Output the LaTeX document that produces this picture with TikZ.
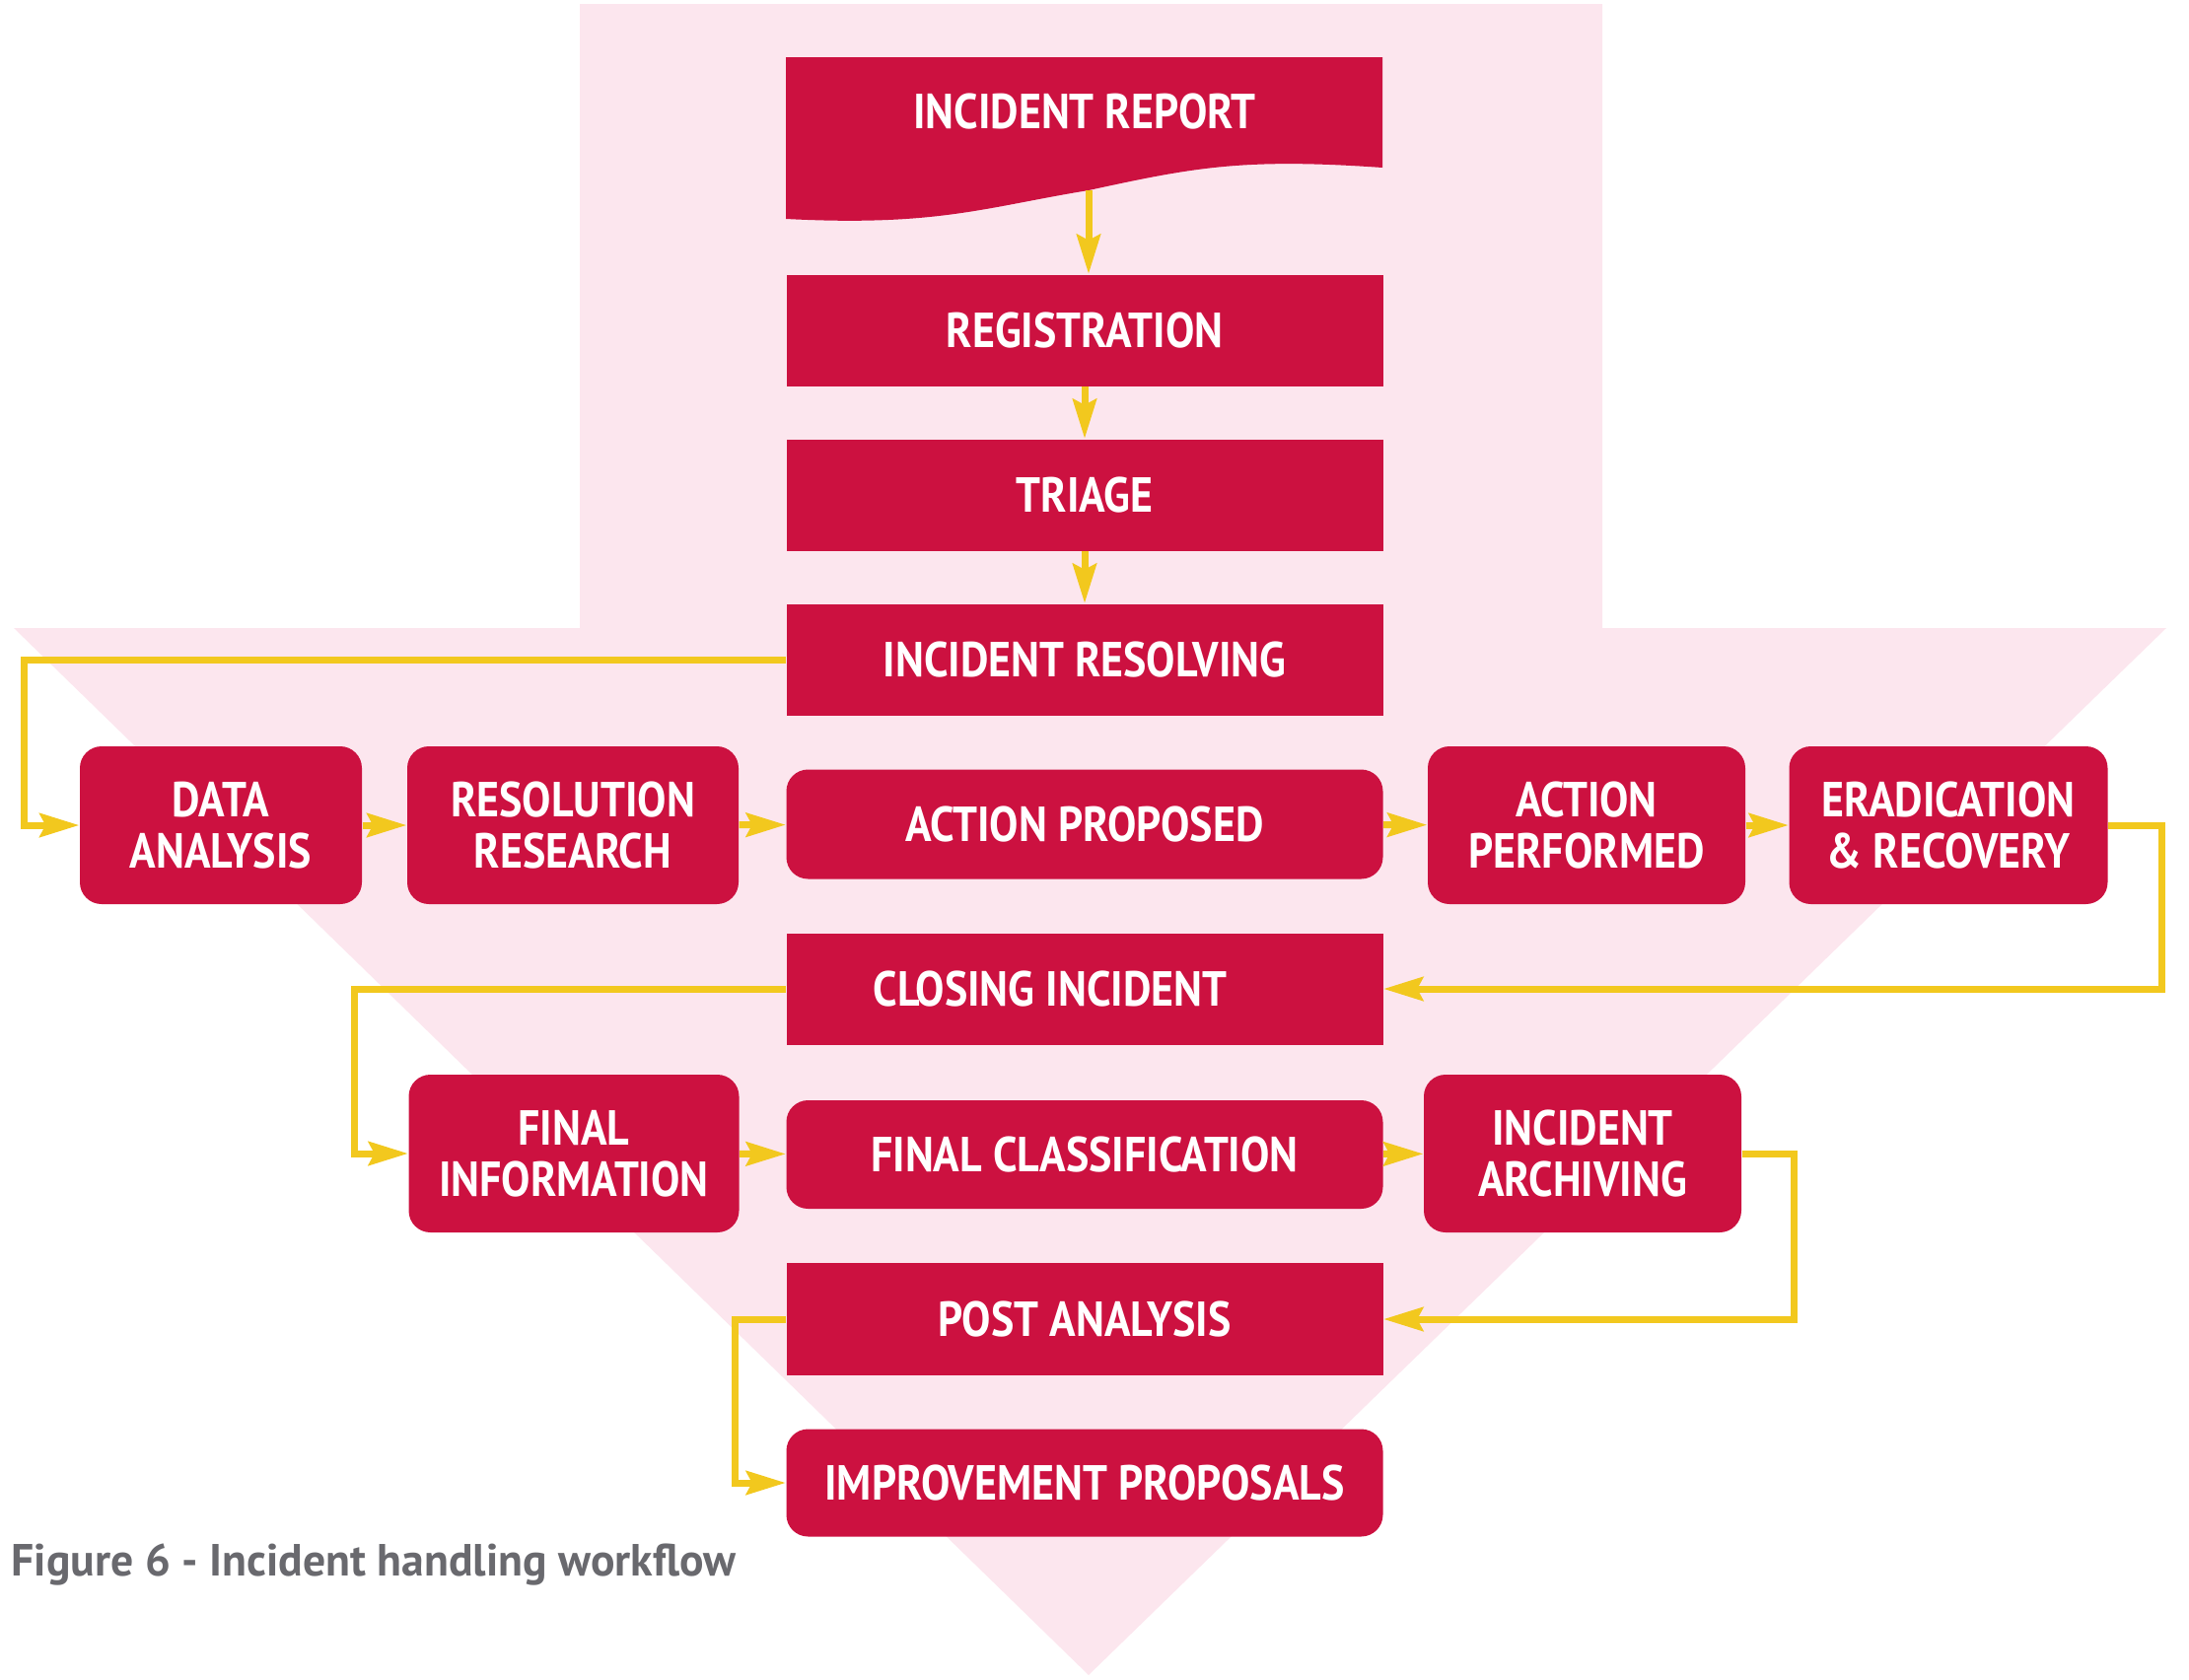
\documentclass[tikz,border=0pt]{standalone}
\usepackage{fontspec}
\setmainfont{PT Sans}
\newfontfamily\boxfamily[FakeStretch=0.88]{PT Sans}
\newfontfamily\captfamily{PT Sans}
\usetikzlibrary{arrows.meta}
\definecolor{flowred}{RGB}{204,17,64}
\definecolor{flowpink}{RGB}{252,230,238}
\definecolor{flowyellow}{RGB}{242,200,30}
\definecolor{captiongray}{RGB}{105,105,110}

\begin{document}
\begin{tikzpicture}[x=0.1mm,y=-0.1mm,
  boxtext/.style={text=white, font=\boxfamily\bfseries\fontsize{14.2}{14.8}\selectfont, align=center},
  box/.style={boxtext, fill=flowred, inner sep=0pt, minimum width=60.5mm, minimum height=11.3mm},
  rbox/.style={box, rounded corners=2.2mm},
  sidebox/.style={rbox, minimum height=16mm},
  flow/.style={draw=flowyellow, line width=0.7mm,
    -{Stealth[length=4mm, width=2.4mm, inset=0.6mm]}},
  link/.style={draw=flowyellow, line width=0.7mm}
]
\useasboundingbox (0,0) rectangle (2220,1704);

% big downward arrow in the background
\fill[flowpink] (588,4) -- (1625,4) -- (1625,637) -- (2197,637)
  -- (1104,1699) -- (14,637) -- (588,637) -- cycle;

% document-shaped first step
\node[inner sep=0pt, minimum width=60.5mm, minimum height=16.4mm] (rep) at (1100,140) {};
\fill[flowred] (797,58) -- (1402,58) -- (1402,170)
  .. controls (1260,160) and (1210,170) .. (1104,193)
  .. controls (1000,210) and (950,230) .. (797,222) -- cycle;
\node[boxtext] (reptxt) at (1100,113) {INCIDENT REPORT};
\coordinate (repout) at (1104,193);

% central column
\node[box] (reg) at (1100,335) {REGISTRATION};
\node[box] (tri) at (1100,502) {TRIAGE};
\node[box] (res) at (1100,669) {INCIDENT RESOLVING};
\node[rbox, minimum height=11.1mm] (ap) at (1100,836) {ACTION PROPOSED};
\node[box] (close) at (1100,1003) {};
\node[boxtext] (closetxt) at (1065,1003) {CLOSING INCIDENT};
\node[rbox, minimum height=11mm] (fcl) at (1100,1171) {FINAL CLASSIFICATION};
\node[box, minimum height=11.4mm] (post) at (1100,1338) {POST ANALYSIS};
\node[rbox, minimum height=10.9mm] (imp) at (1100,1504) {IMPROVEMENT PROPOSALS};

% side steps
\node[sidebox, minimum width=28.6mm] (da) at (224,837) {DATA\\ANALYSIS};
\node[sidebox, minimum width=33.6mm] (rr) at (581,837) {RESOLUTION\\RESEARCH};
\node[sidebox, minimum width=32.2mm] (apf) at (1609,837) {ACTION\\PERFORMED};
\node[sidebox, minimum width=32.3mm] (er) at (1976,837) {ERADICATION\\\& RECOVERY};
\node[sidebox, minimum width=33.5mm] (fi) at (582,1170) {FINAL\\INFORMATION};
\node[sidebox, minimum width=32.2mm] (ia) at (1605,1170) {INCIDENT\\ARCHIVING};

% caption
\node[anchor=base west, inner sep=0pt, text=captiongray,
  font=\captfamily\bfseries\fontsize{13}{15}\selectfont] (cap) at (11,1598)
  {Figure 6 - Incident handling workflow};

% vertical flow
\draw[flow] (repout) -- (repout |- reg.north);
\draw[flow] (reg) -- (tri);
\draw[flow] (tri) -- (res);

% resolving loop
\draw[flow] (res.west) -| ([xshift=-5.6mm]da.west) -- (da.west);
\draw[flow] (da) -- (rr);
\draw[flow] (rr) -- (ap);
\draw[flow] (ap) -- (apf);
\draw[flow] (apf) -- (er);
\draw[flow] (er.east) -- ([xshift=5.4mm]er.east) |- (close.east);

% closing loop
\draw[flow] (close.west) -| ([xshift=-5.4mm]fi.west) -- (fi.west);
\draw[flow] (fi) -- (fcl);
\draw[flow] (fcl) -- (ia);
\draw[flow] (ia.east) -- ([xshift=5.3mm]ia.east) |- (post.east);

% improvement loop
\draw[flow] (post.west) -| ([xshift=-5.1mm]imp.west) -- (imp.west);
\end{tikzpicture}
\end{document}
